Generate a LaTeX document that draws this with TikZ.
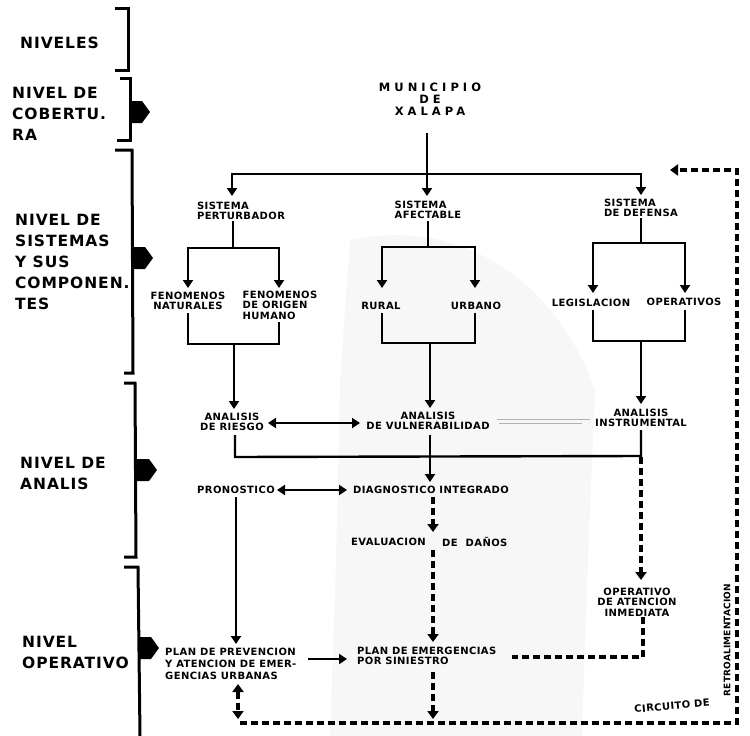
\documentclass[tikz,border=0pt]{standalone}
\usepackage{fontspec}
\setmainfont{DejaVu Sans}
\newfontfamily\lvfont[LetterSpace=6]{DejaVu Sans}
\newfontfamily\dgfont[LetterSpace=4]{DejaVu Sans}
\newfontfamily\rtfont[LetterSpace=2]{DejaVu Sans}
\newfontfamily\munfont[LetterSpace=35]{DejaVu Sans}
\usetikzlibrary{arrows.meta}
\tikzset{
  lvl/.style={font=\fontsize{15.5}{21}\selectfont\lvfont\bfseries, align=left, anchor=west, inner sep=0pt},
  dg/.style={font=\fontsize{10}{10.5}\selectfont\dgfont\bfseries, inner sep=1pt, align=center},
  ln/.style={line width=2.4pt, line join=miter},
  arr/.style={ln, -{Triangle[length=8pt,width=10pt]}},
  dbl/.style={ln, {Triangle[length=8pt,width=10pt]}-{Triangle[length=8pt,width=10pt]}},
  dsh/.style={line width=4pt, dash pattern=on 7pt off 4pt},
  darr/.style={dsh, -{Triangle[length=8pt,width=11pt]}},
  ddbl/.style={dsh, {Triangle[length=8pt,width=11pt]}-{Triangle[length=8pt,width=11pt]}},
  brk/.style={line width=3pt, line join=miter},
  blob/.style={fill=black},
}
\begin{document}
\begin{tikzpicture}[x=1pt,y=-1pt]
\useasboundingbox (0,0) rectangle (750,736);
% faint scan tone
\fill[gray!6] (350,240) .. controls (470,215) and (560,290) .. (595,390) -- (588,560) -- (582,736) -- (330,736) -- (336,560) -- (340,380) -- cycle;

% ---------- left column ----------
\node[lvl] (l1) at (20,43) {NIVELES};
\node[lvl] (l2) at (12,114) {NIVEL DE\\COBERTU.\\RA};
\node[lvl] (l3) at (15,262) {NIVEL DE\\SISTEMAS\\Y SUS\\COMPONEN.\\TES};
\node[lvl] (l4) at (20,473) {NIVEL DE\\ANALIS};
\node[lvl] (l5) at (22,652) {NIVEL\\OPERATIVO};

\draw[brk] (115,8) -- (128,8) -- (128,70) -- (115,70);
\draw[brk] (120,78) -- (130,78) -- (130,140) -- (117,140);
\draw[brk] (115,150) -- (132,150) -- (133,373) -- (124,373);
\draw[brk] (124,383) -- (135,383) -- (136,557) -- (124,557);
\draw[brk] (124,567) -- (138,567) -- (140,736);

\foreach \x/\y in {130/112, 133/258, 137/470, 139/648}
  \fill[blob] (\x,\y-11) -- (\x+12,\y-11) -- (\x+20,\y) -- (\x+12,\y+11) -- (\x,\y+11) -- cycle;

% ---------- diagram nodes ----------
\node[dg, font=\fontsize{11.5}{12}\selectfont\munfont\bfseries] (mun) at (430,99) {MUNICIPIO\\DE\\XALAPA};
\node[dg, align=left] (sp) at (241,211) {SISTEMA\\PERTURBADOR};
\node[dg, align=left] (sa) at (428,210) {SISTEMA\\AFECTABLE};
\node[dg, align=left] (sd) at (641,208) {SISTEMA\\DE DEFENSA};
\node[dg] (fn) at (188,301) {FENOMENOS\\NATURALES};
\node[dg, align=left] (fo) at (280,305) {FENOMENOS\\DE ORIGEN\\HUMANO};
\node[dg] (ru) at (381,306) {RURAL};
\node[dg] (ur) at (476,306) {URBANO};
\node[dg] (le) at (591,303) {LEGISLACION};
\node[dg] (op) at (684,302) {OPERATIVOS};
\node[dg] (ar) at (232,422) {ANALISIS\\DE RIESGO};
\node[dg] (av) at (428,421) {ANALISIS\\DE VULNERABILIDAD};
\node[dg] (ai) at (641,418) {ANALISIS\\INSTRUMENTAL};
\node[dg] (pr) at (236,490) {PRONOSTICO};
\node[dg] (di) at (431,490) {DIAGNOSTICO INTEGRADO};
\node[dg, anchor=east] (ev) at (427,542) {EVALUACION};
\node[dg, anchor=west] (ed) at (441,542) {DE\hspace{8pt}DAÑOS};
\node[dg, align=left, anchor=west] (pe) at (356,656) {PLAN DE EMERGENCIAS\\POR SINIESTRO};
\node[dg, align=left, anchor=west, font=\fontsize{10}{12}\selectfont\dgfont\bfseries] (pp) at (164,664) {PLAN DE PREVENCION\\Y ATENCION DE EMER-\\GENCIAS URBANAS};
\node[dg] (oi) at (637,602) {OPERATIVO\\DE ATENCION\\INMEDIATA};
\node[dg, rotate=5] (cd) at (672,706) {CIRCUITO DE};
\node[dg, rotate=90, font=\fontsize{9}{10.5}\selectfont\rtfont\bfseries] (rt) at (727,640) {RETROALIMENTACION};

% ---------- connectors ----------
\draw[arr] (427,133) -- (427,196);
\draw[dbl] (232,196) -- (232,174) -- (641,174) -- (641,195);

\draw[ln] (233,221) -- (233,248);
\draw[dbl] (188,288) -- (188,248) -- (279,248) -- (279,288);
\draw[ln] (188,313) -- (188,344) -- (279,344) -- (279,322);
\draw[arr] (234,344) -- (234,409);

\draw[ln] (428,221) -- (428,247);
\draw[dbl] (382,288) -- (382,247) -- (475,247) -- (475,288);
\draw[ln] (382,313) -- (382,343) -- (475,343) -- (475,313);
\draw[arr] (430,343) -- (430,408);

\draw[ln] (641,218) -- (641,243);
\draw[dbl] (593,293) -- (593,243) -- (685,243) -- (685,293);
\draw[ln] (593,310) -- (593,341) -- (685,341) -- (685,310);
\draw[arr] (641,341) -- (641,404);

\draw[dbl] (268,423) -- (360,423);
\draw[gray!60, line width=0.5pt] (497,419) -- (590,419);
\draw[gray!60, line width=0.5pt] (499,423) -- (582,423);

\draw[ln] (235,435) -- (235,457) -- (641,456) -- (641,430);
\draw[arr] (430,435) -- (430,482);
\draw[dbl] (277,490) -- (347,490);

\draw[darr] (433,497) -- (433,532);
\draw[darr] (433,550) -- (433,642);
\draw[darr] (433,672) -- (433,719);
\draw[darr] (641,457) -- (641,580);
\draw[dsh] (643,617) -- (643,657) -- (512,657);

\draw[arr] (236,497) -- (236,644);
\draw[arr] (308,659) -- (347,659);
\draw[ddbl] (238,684) -- (238,719);

\draw[darr] (240,723) -- (737,723) -- (737,170) -- (670,170);
\end{tikzpicture}
\end{document}
